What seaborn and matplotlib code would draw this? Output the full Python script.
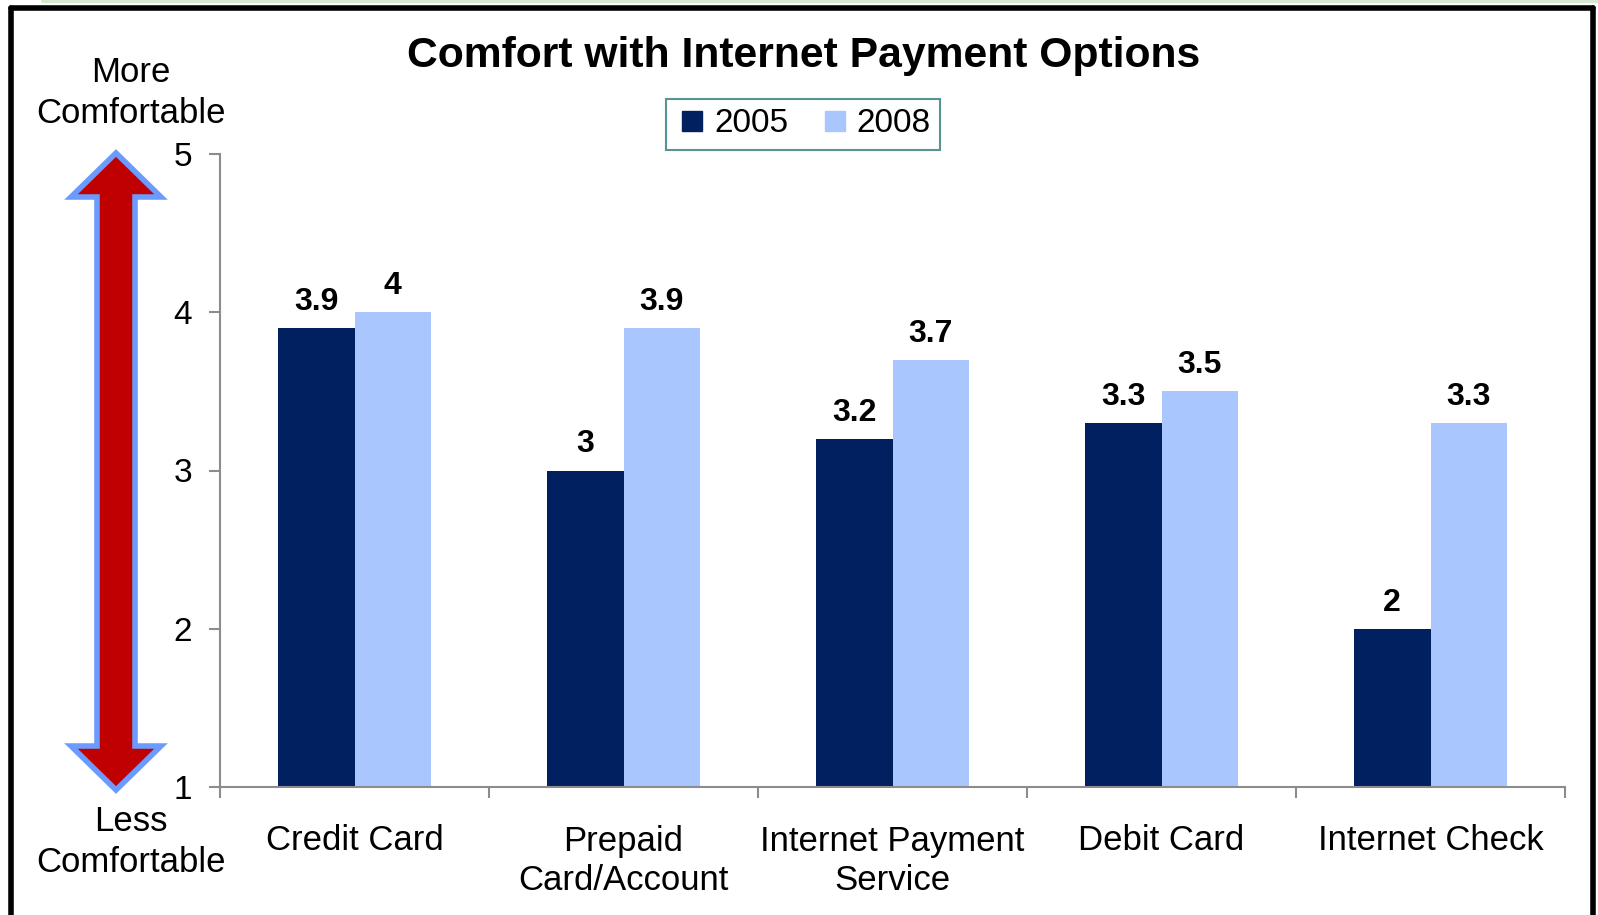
import matplotlib
matplotlib.use("Agg")
import matplotlib.pyplot as plt
import seaborn as sns
import pandas as pd
from matplotlib.patches import Polygon
from matplotlib.lines import Line2D

categories = ["Credit Card", "Prepaid\nCard/Account", "Internet Payment\nService",
              "Debit Card", "Internet Check"]
years = ["2005", "2008"]
values_2005 = [3.9, 3.0, 3.2, 3.3, 2.0]
values_2008 = [4.0, 3.9, 3.7, 3.5, 3.3]
colors = ["#002060", "#AAC6FF"]

df = pd.DataFrame({
    "category": categories * 2,
    "year": [years[0]] * 5 + [years[1]] * 5,
    "score": values_2005 + values_2008,
})

sns.set_style("white")
plt.rcParams["font.family"] = ["Liberation Sans", "DejaVu Sans"]
plt.rcParams["text.color"] = "black"
plt.rcParams["xtick.color"] = "black"
plt.rcParams["ytick.color"] = "black"

W, H = 1598, 915
fig = plt.figure(figsize=(W / 100, H / 100), dpi=100)
ax = fig.add_axes([220 / W, 1 - 787 / H, (1565 - 220) / W, (787 - 154) / H])

sns.barplot(data=df, x="category", y="score", hue="year", palette=colors,
            width=0.57, saturation=1, linewidth=0, ax=ax, legend=False)
ax.set_ylim(1, 5)
ax.set_xlim(-0.5, 4.5)
ax.set_yticks([1, 2, 3, 4, 5])
ax.set_xlabel("")
ax.set_ylabel("")

# value labels
for cont in ax.containers:
    ax.bar_label(cont, labels=[f"{v:g}" for v in cont.datavalues], padding=8,
                 fontsize=23, fontweight="bold", color="black")

for side in ["top", "right"]:
    ax.spines[side].set_visible(False)
for side in ["left", "bottom"]:
    ax.spines[side].set_color("#8c8c8c")
    ax.spines[side].set_linewidth(1.5)

ax.tick_params(axis="y", which="major", length=8, width=1.5, color="#8c8c8c",
               labelcolor="black", labelsize=24, pad=12, left=True, direction="out")
ax.set_xticks([-0.5, 0.5, 1.5, 2.5, 3.5, 4.5], minor=True)
ax.tick_params(axis="x", which="minor", length=8, width=1.5, color="#8c8c8c",
               bottom=True, direction="out")
ax.tick_params(axis="x", which="major", length=0, labelsize=25, pad=27,
               labelcolor="black")
for lbl in ax.get_xticklabels():
    lbl.set_linespacing(1.25)
ax.grid(False)

fig.text(0.503, 1 - 56 / H, "Comfort with Internet Payment Options",
         ha="center", va="center", fontsize=30.7, fontweight="bold", color="black")

handles = [Line2D([], [], marker="s", linestyle="", markersize=14,
                  markerfacecolor=c, markeredgecolor=c) for c in colors]
leg = fig.legend(handles, years, loc="center", bbox_to_anchor=(803 / W, 1 - 124 / H),
                 ncol=2, fontsize=24, frameon=True, fancybox=False,
                 handletextpad=0.15, columnspacing=0.9, handlelength=1.0,
                 borderpad=0.3)
leg.get_frame().set_edgecolor("#2E7A74")
leg.get_frame().set_linewidth(1.5)

# side labels
fig.text(131 / W, 1 - 93 / H, "More\nComfortable", ha="center", va="center",
         fontsize=25, linespacing=1.3)
fig.text(131 / W, 1 - 842 / H, "Less\nComfortable", ha="center", va="center",
         fontsize=25, linespacing=1.3)

# double arrow (decoration) in pixel coords
cx, top, bot = 116, 153, 790
sw, hw, hl = 19, 45, 44
pts = [(cx, top), (cx + hw, top + hl), (cx + sw, top + hl), (cx + sw, bot - hl),
       (cx + hw, bot - hl), (cx, bot), (cx - hw, bot - hl), (cx - sw, bot - hl),
       (cx - sw, top + hl), (cx - hw, top + hl)]
pts = [(x / W, 1 - y / H) for x, y in pts]
fig.patches.append(Polygon(pts, closed=True, transform=fig.transFigure,
                           facecolor="#C00000", edgecolor="#6B9BFF", linewidth=4,
                           joinstyle="miter"))

# outer frame
frame = dict(color="black", linewidth=4, transform=fig.transFigure)
fig.lines.append(Line2D([11 / W, 11 / W], [0, 1 - 8 / H], **frame))
fig.lines.append(Line2D([11 / W, 1593 / W], [1 - 8 / H, 1 - 8 / H], **frame))
fig.lines.append(Line2D([1593 / W, 1593 / W], [0, 1 - 8 / H], **frame))
fig.lines.append(Line2D([43 / W, 1], [1 - 1 / H, 1 - 1 / H], color="#D6E9D0",
                        linewidth=3, transform=fig.transFigure))

fig.savefig("out.png", dpi=100)
